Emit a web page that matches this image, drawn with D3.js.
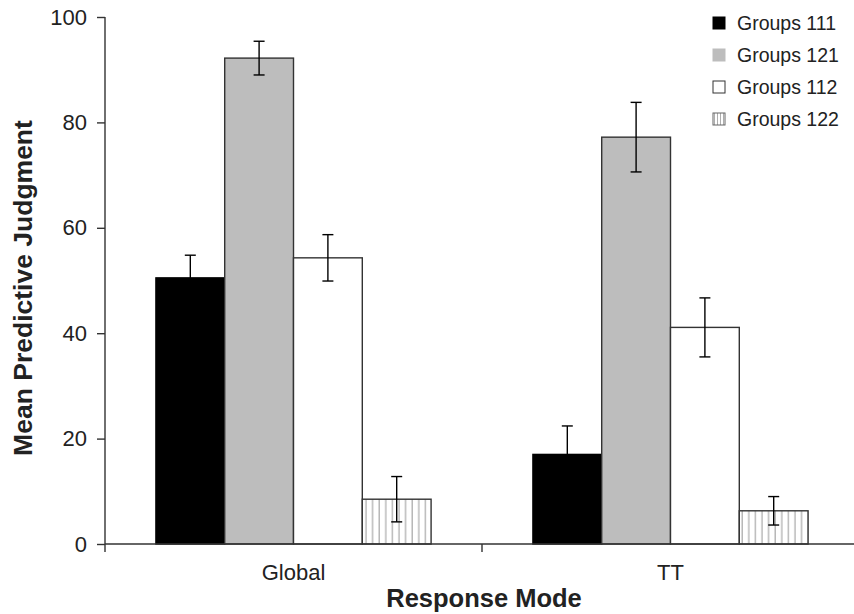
<!DOCTYPE html>
<html>
<head>
<meta charset="utf-8">
<script src="https://cdn.jsdelivr.net/npm/d3@7"></script>
<style>
  body { margin: 0; background: #fff; }
  text { font-family: "Liberation Sans", Arial, sans-serif; fill: #222; }
</style>
</head>
<body>
<div id="chart"></div>
<script>
var width = 854;
var height = 614;

var categories = ["Global", "TT"];
var series = ["Groups 111", "Groups 121", "Groups 112", "Groups 122"];
// means and error half-widths, one row per category
var means = [
    [50.5, 92.2, 54.3, 8.5],
    [17.0, 77.2, 41.1, 6.3]
];
var errors = [
    [4.3, 3.2, 4.4, 4.3],
    [5.4, 6.6, 5.6, 2.7]
];
var yTicks = [0, 20, 40, 60, 80, 100];

var fills = ["#000000", "#bdbdbd", "#ffffff", "url(#vhatch)"];
var strokes = ["#000000", "#333333", "#333333", "#333333"];

var svg = d3.select("#chart")
    .append("svg")
    .attr("width", width)
    .attr("height", height);

var defs = svg.append("defs");
var pat = defs.append("pattern")
    .attr("id", "vhatch")
    .attr("patternUnits", "userSpaceOnUse")
    .attr("width", 6.6)
    .attr("height", 10);
pat.append("rect").attr("width", 6.6).attr("height", 10).attr("fill", "#fff");
pat.append("line")
    .attr("x1", 3).attr("x2", 3).attr("y1", 0).attr("y2", 10)
    .attr("stroke", "#a8a8a8").attr("stroke-width", 1.2);

var patSmall = defs.append("pattern")
    .attr("id", "vhatchSmall")
    .attr("patternUnits", "userSpaceOnUse")
    .attr("width", 3)
    .attr("height", 10);
patSmall.append("rect").attr("width", 3).attr("height", 10).attr("fill", "#fff");
patSmall.append("line")
    .attr("x1", 1.5).attr("x2", 1.5).attr("y1", 0).attr("y2", 10)
    .attr("stroke", "#999").attr("stroke-width", 0.8);

var y = d3.scaleLinear().domain([0, 100]).range([544, 17]);
var x0 = d3.scaleBand().domain(categories).range([105, 859]);
var x1 = d3.scaleBand().domain(series).range([0, x0.bandwidth()])
    .paddingInner(0).paddingOuter(0.74);

var rows = [];
categories.forEach(function(c, i){
    series.forEach(function(s, j){
        rows.push({cat: c, ser: s, j: j, v: means[i][j], e: errors[i][j]});
    });
});

// bars
var bars = svg.append("g").attr("id", "bars");
bars.selectAll("rect")
    .data(rows)
    .enter()
        .append("rect")
        .attr("x", function(d){ return x0(d.cat) + x1(d.ser); })
        .attr("y", function(d){ return y(d.v); })
        .attr("width", x1.bandwidth())
        .attr("height", function(d){ return y(0) - y(d.v); })
        .attr("fill", function(d){ return fills[d.j]; })
        .attr("stroke", function(d){ return strokes[d.j]; })
        .attr("stroke-width", 1.4);

// error bars
var errs = svg.append("g").attr("id", "errors")
    .attr("stroke", "#000").attr("stroke-width", 1.4);
rows.forEach(function(d){
    var cx = x0(d.cat) + x1(d.ser) + x1.bandwidth() / 2;
    var g = errs.append("g");
    g.append("line").attr("x1", cx).attr("x2", cx)
        .attr("y1", y(d.v + d.e)).attr("y2", y(d.v - d.e));
    g.append("line").attr("x1", cx - 5.5).attr("x2", cx + 5.5)
        .attr("y1", y(d.v + d.e)).attr("y2", y(d.v + d.e));
    g.append("line").attr("x1", cx - 5.5).attr("x2", cx + 5.5)
        .attr("y1", y(d.v - d.e)).attr("y2", y(d.v - d.e));
});

// y axis
var yAxis = svg.append("g")
    .attr("transform", "translate(105,0)")
    .call(d3.axisLeft(y).tickValues(yTicks).tickSize(8).tickPadding(10));
yAxis.select(".domain").attr("stroke", "#333").attr("stroke-width", 1.4)
    .attr("d", "M0," + y(100) + "V" + (y(0) + 8));
yAxis.selectAll(".tick line").attr("stroke", "#333").attr("stroke-width", 1.4);
yAxis.selectAll(".tick text")
    .style("font-family", "'Liberation Sans', Arial, sans-serif")
    .style("font-size", "22px").attr("fill", "#222");

// x axis
var xAxis = svg.append("g").attr("id", "xaxis");
xAxis.append("line")
    .attr("x1", 105).attr("x2", width)
    .attr("y1", y(0)).attr("y2", y(0))
    .attr("stroke", "#333").attr("stroke-width", 1.4);
xAxis.append("line")
    .attr("x1", x0("TT")).attr("x2", x0("TT"))
    .attr("y1", y(0)).attr("y2", y(0) + 8)
    .attr("stroke", "#333").attr("stroke-width", 1.4);
xAxis.selectAll("text")
    .data(categories)
    .enter()
        .append("text")
        .attr("x", function(d){ return x0(d) + x0.bandwidth() / 2; })
        .attr("y", 580)
        .attr("text-anchor", "middle")
        .style("font-size", "22px")
        .text(function(d){ return d; });

// axis titles
svg.append("text")
    .attr("x", 484)
    .attr("y", 607)
    .attr("text-anchor", "middle")
    .style("font-size", "25.5px")
    .style("font-weight", "bold")
    .text("Response Mode");

svg.append("text")
    .attr("transform", "translate(32,288) rotate(-90)")
    .attr("text-anchor", "middle")
    .style("font-size", "26.5px")
    .style("font-weight", "bold")
    .text("Mean Predictive Judgment");

// legend
var legFills = ["#000000", "#bdbdbd", "#ffffff", "url(#vhatchSmall)"];
var legStrokes = ["#000", "#bdbdbd", "#333", "#666"];
var legend = svg.append("g").attr("id", "legend");
var lg = legend.selectAll("g")
    .data(series)
    .enter()
        .append("g")
        .attr("transform", function(d,i){ return "translate(713," + (23 + i * 32) + ")"; });
lg.append("rect")
    .attr("x", 0).attr("y", -6)
    .attr("width", 12).attr("height", 12)
    .attr("fill", function(d,i){ return legFills[i]; })
    .attr("stroke", function(d,i){ return legStrokes[i]; })
    .attr("stroke-width", 1);
lg.append("text")
    .attr("x", 24)
    .attr("y", 7)
    .style("font-size", "19.5px")
    .text(function(d){ return d; });
</script>
</body>
</html>
